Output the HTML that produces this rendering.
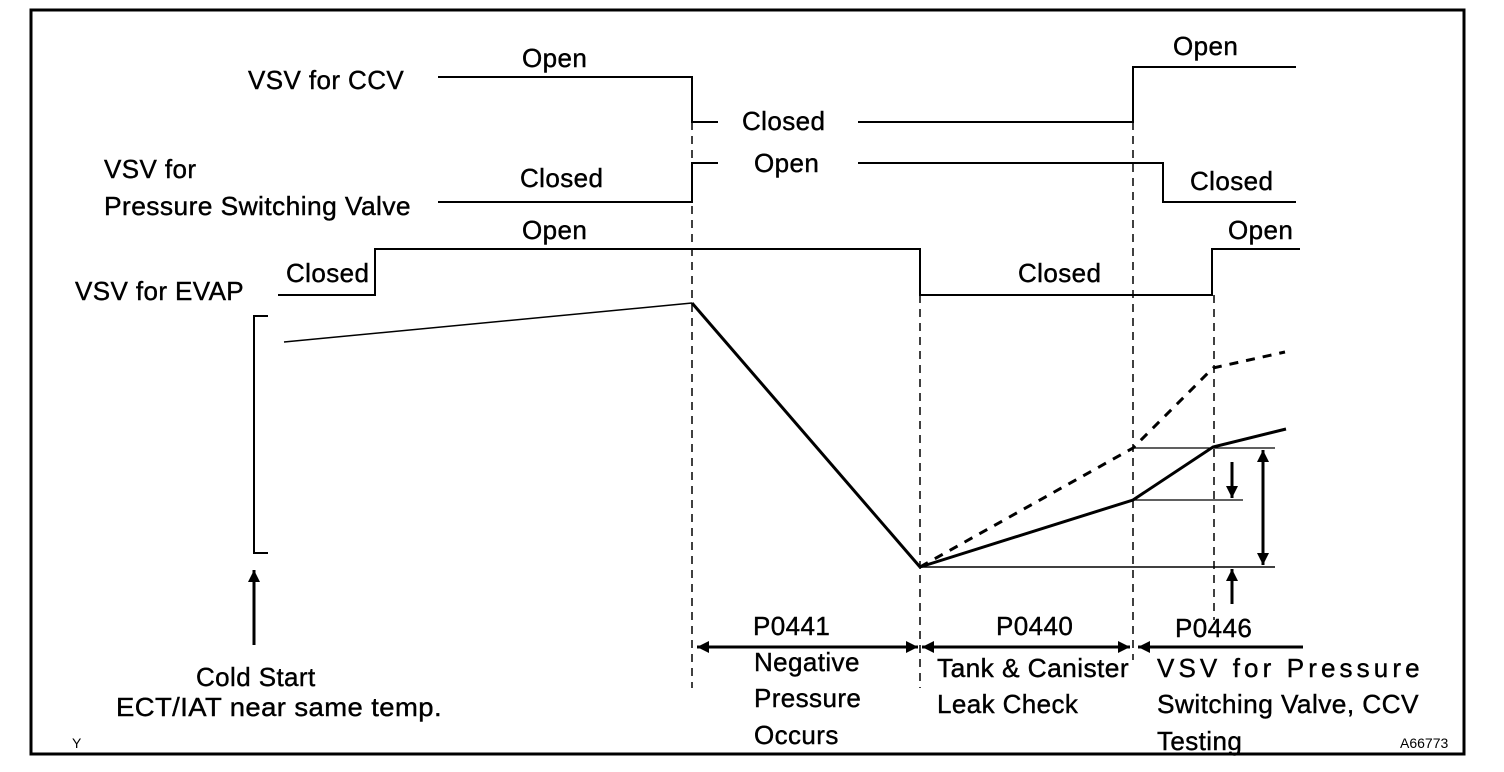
<!DOCTYPE html>
<html><head><style>
html,body{margin:0;padding:0;background:#fff;}
svg{display:block;}
text{font-family:"Liberation Sans",Arial,sans-serif;font-size:26px;letter-spacing:0.4px;fill:#000;stroke:#000;stroke-width:0.4px;}
text.s{font-size:14px;letter-spacing:0;stroke-width:0;}
</style></head><body>
<svg width="1504" height="772" viewBox="0 0 1504 772" xmlns="http://www.w3.org/2000/svg">
<defs>
<marker id="ah" viewBox="0 0 10 10" refX="10" refY="5" markerWidth="6" markerHeight="4" orient="auto-start-reverse" markerUnits="strokeWidth"><path d="M0,0 L10,5 L0,10 z" fill="#000"/></marker>
</defs>
<rect x="31" y="10" width="1433" height="744" fill="none" stroke="#000" stroke-width="3"/>
<g fill="none" stroke="#000" stroke-width="2">
<polyline points="438,77 692,77 692,122 718,122"/>
<polyline points="858,122 1133,122 1133,67 1296,67"/>
<polyline points="438,202 692,202 692,163 718,163"/>
<polyline points="858,163 1163,163 1163,202 1296,202"/>
<polyline points="278,295 375,295 375,249 920,249 920,295 1212,295 1212,249 1300,249"/>
<polyline points="268,316 254,316 254,553 268,553"/>
<line x1="284" y1="342" x2="692" y2="303" stroke-width="1.5"/>
<polyline points="692,303 920,567" stroke-width="3"/>
<polyline points="920,567 1133,500 1213,447 1286,429" stroke-width="3"/>
<polyline points="920,567 1133,448 1213,368 1285,352" stroke-width="3" stroke-dasharray="9,8"/>
<line x1="1133" y1="448" x2="1275" y2="448" stroke-width="1.2"/>
<line x1="1133" y1="500" x2="1243" y2="500" stroke-width="1.2"/>
<line x1="920" y1="567" x2="1275" y2="567" stroke-width="1.5"/>
<g stroke-width="1.5" stroke-dasharray="8,6">
<line x1="692" y1="122" x2="692" y2="688"/>
<line x1="920" y1="295" x2="920" y2="688"/>
<line x1="1133" y1="122" x2="1133" y2="660"/>
<line x1="1214" y1="295" x2="1214" y2="620"/>
</g>
<line x1="1232" y1="462" x2="1232" y2="498" stroke-width="3" marker-end="url(#ah)"/>
<line x1="1263" y1="450" x2="1263" y2="565" stroke-width="3" marker-start="url(#ah)" marker-end="url(#ah)"/>
<line x1="1232" y1="604" x2="1232" y2="569" stroke-width="3" marker-end="url(#ah)"/>
<line x1="254" y1="645" x2="254" y2="570" stroke-width="3" marker-end="url(#ah)"/>
<line x1="697" y1="647" x2="918" y2="647" stroke-width="3" marker-start="url(#ah)" marker-end="url(#ah)"/>
<line x1="922" y1="647" x2="1130" y2="647" stroke-width="3" marker-start="url(#ah)" marker-end="url(#ah)"/>
<line x1="1303" y1="647" x2="1138" y2="647" stroke-width="3" marker-end="url(#ah)"/>
</g>
<text x="248" y="89">VSV for CCV</text>
<text x="522" y="67">Open</text>
<text x="742" y="130">Closed</text>
<text x="1173" y="55">Open</text>
<text x="104" y="178">VSV for</text>
<text x="104" y="215" textLength="307" lengthAdjust="spacingAndGlyphs">Pressure Switching Valve</text>
<text x="520" y="187">Closed</text>
<text x="754" y="172">Open</text>
<text x="1190" y="190">Closed</text>
<text x="75" y="300">VSV for EVAP</text>
<text x="286" y="282">Closed</text>
<text x="522" y="239">Open</text>
<text x="1018" y="282">Closed</text>
<text x="1228" y="239">Open</text>
<text x="753" y="635">P0441</text>
<text x="754" y="671">Negative</text>
<text x="754" y="707">Pressure</text>
<text x="754" y="744">Occurs</text>
<text x="996" y="635">P0440</text>
<text x="937" y="677" textLength="192" lengthAdjust="spacingAndGlyphs">Tank &amp; Canister</text>
<text x="937" y="713">Leak Check</text>
<text x="1175" y="637">P0446</text>
<text x="1157" y="677" textLength="263" lengthAdjust="spacing">VSV for Pressure</text>
<text x="1157" y="713" textLength="262" lengthAdjust="spacingAndGlyphs">Switching Valve, CCV</text>
<text x="1157" y="750">Testing</text>
<text x="196" y="686">Cold Start</text>
<text x="116" y="716" textLength="326" lengthAdjust="spacingAndGlyphs">ECT/IAT near same temp.</text>
<text class="s" x="72" y="748">Y</text>
<text class="s" x="1400" y="748">A66773</text>
</svg>
</body></html>
